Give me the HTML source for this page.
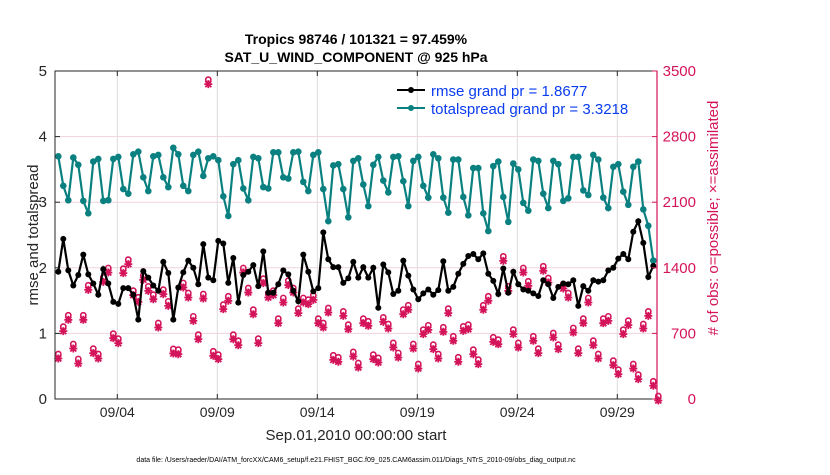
<!DOCTYPE html>
<html><head><meta charset="utf-8"><style>
body{margin:0;background:#fff;}
svg text{font-family:"Liberation Sans",Arial,sans-serif;}
</style></head><body>
<svg id="chart" width="830" height="470" xmlns="http://www.w3.org/2000/svg">
<rect width="830" height="470" fill="#fff"/>
<text x="356" y="44" text-anchor="middle" font-size="14" font-weight="bold">Tropics 98746 / 101321 = 97.459%</text>
<text x="356" y="62" text-anchor="middle" font-size="14" font-weight="bold">SAT_U_WIND_COMPONENT @ 925 hPa</text>
<g id="grid"></g>
<g id="marks"></g>
<g id="axes"></g>
<text x="356" y="440" text-anchor="middle" font-size="15" fill="#262626">Sep.01,2010 00:00:00 start</text>
<text transform="translate(38,235) rotate(-90)" text-anchor="middle" font-size="15" fill="#262626">rmse and totalspread</text>
<text transform="translate(718,218) rotate(-90)" text-anchor="middle" font-size="15" fill="#d4145a"># of obs: o=possible; ×=assimilated</text>
<text x="356" y="462" text-anchor="middle" font-size="7" fill="#000">data file: /Users/raeder/DAI/ATM_forcXX/CAM6_setup/f.e21.FHIST_BGC.f09_025.CAM6assim.011/Diags_NTrS_2010-09/obs_diag_output.nc</text>
<g>
<line x1="397" y1="90" x2="425" y2="90" stroke="#000" stroke-width="2"/><circle cx="411" cy="90" r="3" fill="#000"/>
<text x="431" y="96" font-size="15" fill="#0a3cf0">rmse grand pr = 1.8677</text>
<line x1="397" y1="108" x2="425" y2="108" stroke="#0b8080" stroke-width="2"/><circle cx="411" cy="108" r="3" fill="#0b8080"/>
<text x="431" y="114" font-size="15" fill="#0a3cf0">totalspread grand pr = 3.3218</text>
</g>
</svg>
<script>
const rmse=[1.94,2.44,1.96,1.73,1.89,2.20,1.90,1.76,1.59,1.98,1.76,1.48,1.45,1.69,1.69,1.59,1.21,1.95,1.85,1.73,1.65,2.09,1.92,1.21,1.70,1.93,2.11,2.00,1.75,2.36,1.85,
1.81,2.41,2.37,1.77,2.15,1.47,1.89,1.94,2.04,1.72,2.25,1.62,1.62,1.75,1.96,1.90,1.65,1.49,2.20,1.94,1.64,1.69,2.54,2.13,2.01,2.01,1.77,1.84,2.09,1.85,
2.01,1.85,2.00,1.39,2.05,1.93,1.60,1.65,2.11,1.88,1.67,1.52,1.61,1.67,1.59,1.66,2.10,1.65,1.71,1.91,2.06,2.18,2.21,2.13,2.22,1.91,1.80,1.60,1.99,1.62,
1.94,1.75,1.67,1.65,1.61,1.57,1.81,1.75,1.54,1.71,1.76,1.75,1.81,1.42,1.72,1.65,1.81,1.79,1.81,1.96,2.00,2.14,2.21,2.13,2.55,2.71,2.38,1.86,2.03];
const spread=[3.70,3.25,3.03,3.68,3.57,3.02,2.83,3.62,3.66,3.02,3.03,3.66,3.69,3.20,3.13,3.73,3.77,3.38,3.17,3.70,3.72,3.38,3.23,3.83,3.73,3.25,3.17,3.72,3.77,3.40,3.67,
3.70,3.64,3.09,2.79,3.58,3.64,3.21,3.03,3.69,3.67,3.23,3.21,3.76,3.76,3.38,3.36,3.76,3.77,3.31,3.17,3.72,3.76,3.20,2.71,3.56,3.58,3.20,2.77,3.63,3.67,
3.27,2.94,3.57,3.69,3.33,3.15,3.69,3.70,3.32,2.94,3.63,3.69,3.25,3.07,3.73,3.67,3.07,2.84,3.65,3.65,3.08,2.80,3.52,3.52,2.83,2.56,3.55,3.62,3.08,2.70,
3.59,3.50,2.99,2.87,3.65,3.63,3.13,2.91,3.63,3.58,3.02,3.06,3.69,3.69,3.18,3.11,3.72,3.65,3.07,2.91,3.54,3.58,3.16,2.96,3.54,3.62,2.89,2.64,2.11];
const nposs=[448,740,861,555,395,861,1181,505,448,1266,1366,665,612,1359,1455,1124,1053,1288,1170,1081,779,1135,1010,502,494,1206,1099,850,654,1088,3376,
477,441,975,1064,654,590,1366,1152,921,612,1252,1099,1124,825,1046,1231,1152,932,1046,1028,1074,825,779,939,434,413,903,761,470,352,
825,797,441,406,839,768,566,459,921,968,555,341,708,754,548,448,733,932,637,413,743,761,494,388,968,1064,626,601,1490,1170,
708,566,1366,1224,637,505,1384,1259,672,548,1195,1099,726,505,825,1046,590,448,825,850,377,281,708,804,341,228,768,903,157,0];
const nused=nposs.slice();
const leftTicks=[0,1,2,3,4,5];
const rightTicks=[0,700,1400,2100,2800,3500];
const dateTicks=[3,8,13,18,23,28];
const dateLabels=['09/04','09/09','09/14','09/19','09/24','09/29'];

const NS='http://www.w3.org/2000/svg';
const L=55,R=657,T=71,B=399;
const d0=-0.115,d1=29.985;
const xs=d=>L+(d-d0)/(d1-d0)*(R-L);
const yl=v=>B-v/5*(B-T);
const yr=v=>B-v/3500*(B-T);
const tday=i=>0.05+0.25*i;
function mk(tag,attrs,parent){const e=document.createElementNS(NS,tag);for(const k in attrs)e.setAttribute(k,attrs[k]);parent.appendChild(e);return e;}
const grid=document.getElementById('grid'),marks=document.getElementById('marks'),axes=document.getElementById('axes');

leftTicks.forEach(v=>{if(v>0&&v<5){const g=mk('line',{x1:L,x2:R,y1:yl(v),y2:yl(v),stroke:'#f1d3dd','stroke-width':1},grid);

}});
dateTicks.forEach((d,k)=>{const g=mk('line',{x1:xs(d),x2:xs(d),y1:T,y2:B,stroke:'#dcdcdc','stroke-width':1},grid);


mk('line',{x1:xs(d),x2:xs(d),y1:B,y2:B-5,stroke:'#262626'},axes);
mk('line',{x1:xs(d),x2:xs(d),y1:T,y2:T+5,stroke:'#262626'},axes);
const t=mk('text',{x:xs(d),y:B+18,'text-anchor':'middle','font-size':14,fill:'#262626'},axes);t.textContent=dateLabels[k];

});

const mag='#d4145a';
nposs.forEach((v,i)=>{const x=xs(tday(i)),y=yr(v);
const g=mk('g',{},marks);


mk('circle',{cx:x,cy:y-3,r:2.6,fill:'none',stroke:mag,'stroke-width':1.6},g);
const y2=yr(nused[i])+1.5;
mk('path',{d:`M${x-4} ${y2}H${x+4}M${x} ${y2-4}V${y2+4}M${x-3} ${y2-3}L${x+3} ${y2+3}M${x-3} ${y2+3}L${x+3} ${y2-3}`,stroke:mag,'stroke-width':1.8},g);});

function series(arr,color,name,r){
 const p=arr.map((v,i)=>(i?'L':'M')+xs(tday(i)).toFixed(1)+' '+yl(v).toFixed(1)).join('');
 const pl=mk('path',{d:p,fill:'none',stroke:color,'stroke-width':2.2},marks);
 
 
 arr.forEach((v,i)=>{const c=mk('circle',{cx:xs(tday(i)),cy:yl(v),r:r,fill:color},marks);
 
 });
}
series(spread,'#0b8080','totalspread',3.3);
series(rmse,'#000','rmse',3);

mk('rect',{x:L,y:T,width:R-L,height:B-T,fill:'none',stroke:'#262626','stroke-width':1},axes);
mk('line',{x1:R,x2:R,y1:T,y2:B,stroke:mag,'stroke-width':1.2},axes);
leftTicks.forEach(v=>{mk('line',{x1:L,x2:L+5,y1:yl(v),y2:yl(v),stroke:'#262626'},axes);
const t=mk('text',{x:L-8,y:yl(v)+5,'text-anchor':'end','font-size':15,fill:'#262626'},axes);t.textContent=v;

});
rightTicks.forEach(v=>{mk('line',{x1:R,x2:R-5,y1:yr(v),y2:yr(v),stroke:mag},axes);
const t=mk('text',{x:696,y:yr(v)+5,'text-anchor':'end','font-size':15,fill:mag},axes);t.textContent=v;

});
</script>
</body></html>
